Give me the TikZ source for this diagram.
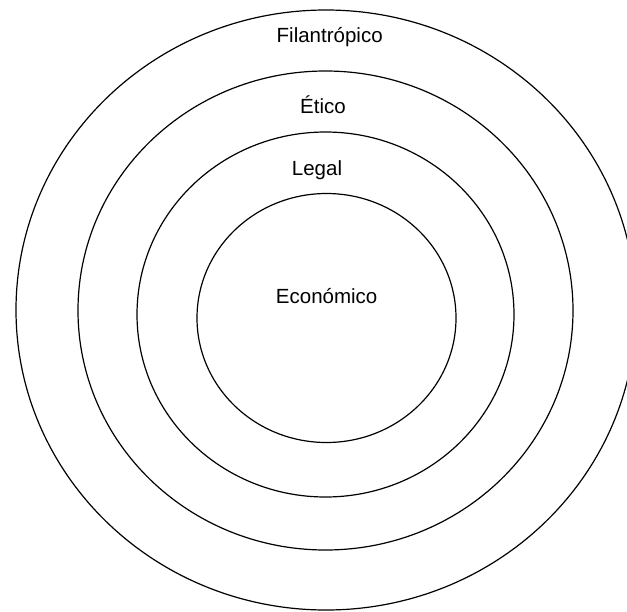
\documentclass[tikz,border=0pt]{standalone}
\usepackage{fontspec}
\setmainfont{Liberation Sans}
\begin{document}
\begin{tikzpicture}[x=1pt,y=-1pt,
  ring/.style={draw=black,line width=1.2pt},
  lbl/.style={font=\fontsize{20.5}{24}\selectfont,anchor=base,inner sep=0pt}]
\useasboundingbox (0,0) rectangle (627,611);
\clip (0,0) rectangle (627,611);
\draw[ring] (326,310) ellipse [x radius=310pt, y radius=300pt];
\draw[ring] (325.5,310.5) ellipse [x radius=247.5pt, y radius=239.5pt];
\draw[ring] (325.5,314.5) ellipse [x radius=188.5pt, y radius=182.5pt];
\draw[ring] (326.5,318) ellipse [x radius=129.5pt, y radius=124.5pt];
\node[lbl] (fil) at (329.7,42.3) {Filantrópico};
\node[lbl] (eti) at (323,113.3) {Ético};
\node[lbl] (leg) at (317,175.7) {Legal};
\node[lbl] (eco) at (326.7,303.3) {Económico};
\end{tikzpicture}
\end{document}
